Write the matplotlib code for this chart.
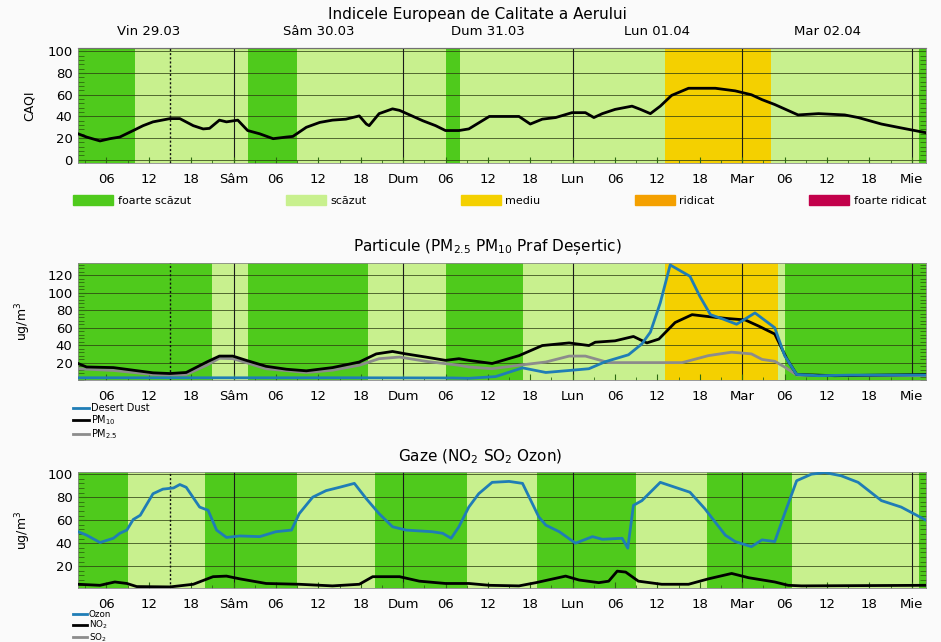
import numpy as np
import matplotlib
matplotlib.use("Agg")
import matplotlib.pyplot as plt
from matplotlib.patches import Patch
from matplotlib.lines import Line2D
from matplotlib.ticker import MultipleLocator

# hours counted from Vin 29.03 00:00
caqi_h = [2, 3.2, 5.1, 6.5, 7.9, 9.8, 11.2, 12.6, 15, 16.4, 18.3, 19.7, 20.6, 22, 23, 24.6,
          26, 27.7, 29.6, 31.5, 32.4, 34.3, 36.2, 38, 39.9, 41.8, 42.8, 43.2, 44.6, 46.5,
          47.5, 50.8, 52.6, 54, 55.9, 57.3, 60.2, 64.4, 66, 67.7, 69.6, 71.9, 73.8, 75,
          76.2, 78, 80.4, 81.6, 83, 84.4, 86, 88.4, 90.3, 92.2, 95, 97.3, 98.8, 100.6,
          103.9, 106.8, 110.5, 112.4, 115.7, 118.5, 122]
caqi_v = [24, 21, 17.4, 19.5, 21, 27, 31.5, 35, 38, 38, 31.5, 28.5, 29, 36.6, 35, 36.6,
          27, 24, 19.5, 21, 21.6, 30, 34.5, 36.6, 37.5, 40.5, 33, 31.5, 42.6, 47,
          45.6, 36, 31.5, 27, 27, 28.5, 40, 40, 33, 37.5, 39, 43.5, 43.5, 39,
          42.6, 46.5, 49.5, 46.5, 42.6, 49.5, 59.4, 66, 66, 66, 63.6, 60, 55.5, 51,
          41.4, 42.6, 41.4, 39, 33, 29.4, 25]

dust_h = [2, 20, 40, 55, 57.3, 61.1, 64.9, 68.2, 71.5, 74.3, 76.6, 79.9, 81.8, 83, 84.4,
          85.8, 88.6, 90, 91.5, 93.1, 95.2, 97.8, 100.6, 102, 103.7, 106.8, 111.5, 122]
dust_v = [2.6, 2.6, 2.6, 2.4, 2, 4, 14, 8.7, 11, 13, 21, 29, 41.5, 55, 88.6,
          132, 119, 96, 75, 70.5, 64, 77, 60, 28, 6.4, 5, 5.7, 5.7]

pm10_h = [2, 3.2, 7, 9.8, 12.6, 15, 17.3, 20.2, 22, 23.9, 25.8, 28.6, 31.5, 34.3, 38,
          41.8, 44.2, 46.5, 48.4, 51.2, 54, 55.9, 57.3, 60.6, 64.4, 67.7, 71.5, 74.3,
          75.2, 78, 80.6, 82.5, 84.2, 86.5, 88.9, 91.2, 94, 96.4, 98.3, 100.6, 102.3,
          103.7, 109.1, 122]
pm10_v = [19, 15, 14.3, 11.3, 8.3, 7.5, 8.7, 20.7, 27.5, 27.5, 22.6, 15.8, 12.4, 10.6, 14.3,
          20.7, 30, 32.8, 30, 26.4, 22.6, 24.5, 22.6, 19, 28, 39.6, 42.6, 39.6,
          43.4, 45, 50, 42.6, 47, 66, 75, 72.8, 70.5, 69, 62, 52.8, 24.5,
          6.4, 5, 6.4]

pm25_h = [2, 7, 12.6, 15, 17.3, 20.2, 22, 23.9, 25.8, 28.6, 34.3, 38, 41.8, 44.6, 47.5,
          51.2, 55.9, 57.3, 60.6, 64.4, 68.2, 71.5, 73.8, 77.1, 80.9, 87.5, 91.2, 94.5,
          97.3, 98.8, 100.6, 102, 103.7, 110, 122]
pm25_v = [13, 11, 6.4, 5.7, 6.4, 17, 25, 24.5, 20, 13, 8.7, 11.3, 17, 24.5, 26.4,
          21.5, 17, 15, 13, 17, 20.7, 27.5, 27.5, 20, 20, 20, 28, 32,
          30, 23.7, 21.5, 15, 5.7, 5, 5]

ozon_h = [2, 3.2, 5.1, 7, 7.9, 8.9, 9.8, 10.8, 12.6, 14, 15.5, 16.4, 17.3, 19.2, 20.4,
          21.6, 23, 24.9, 27.7, 30, 32.2, 33.3, 35.2, 37.1, 39, 41.1, 42.8, 44.6, 46.5,
          48.4, 52.1, 53.6, 54.8, 55.9, 57.3, 58.7, 60.6, 63, 64.9, 67.2, 68.2, 70.1,
          72.4, 74.8, 76.2, 79, 79.8, 80.6, 81.8, 84.4, 86.5, 88.6, 90.7, 93.6, 95,
          97.3, 98.8, 100.6, 102, 103.7, 105.8, 107.7, 110, 112.4, 115.7, 118.5, 122]
ozon_v = [50, 47, 40.6, 44.3, 48.6, 51.4, 60.6, 64.3, 83, 87, 88, 91, 88.6, 71.4, 68.6,
          51.4, 45, 46.3, 45.7, 50, 51.4, 65.7, 80, 85.7, 88.6, 92, 78.6, 65.7, 54.3,
          51.4, 50, 48.6, 44.3, 54.3, 71.4, 83, 92.9, 93.7, 92, 62.9, 55.7, 50,
          40, 45.7, 43.4, 44.3, 35.7, 72.9, 77, 92.9, 88.6, 84.3, 70, 47, 41.4,
          37, 42.9, 41.4, 65.7, 94.3, 100, 101.4, 98.6, 92.9, 77, 71.4, 60]

no2_h = [2, 5.1, 7.2, 8.9, 10.3, 15, 18.3, 21.1, 23, 24.9, 28.6, 33.3, 38, 41.8, 43.7,
         47.5, 50.3, 54, 57.3, 60.2, 64.4, 66.8, 71, 72.9, 75.7, 77.1, 78.3, 79.5,
         81.3, 84.6, 88.4, 91.2, 94.5, 96.9, 100.6, 102.5, 104.4, 122]
no2_v = [4.3, 3.4, 6.3, 5, 2.3, 2, 4.3, 10.9, 11.4, 9, 5, 4.3, 2.9, 4.3, 10.9,
         10.9, 7, 5, 5, 3.4, 2.9, 5.7, 11.4, 8, 5.7, 7, 15.7, 14.9,
         7, 4.3, 4.3, 9, 13.7, 10, 6.3, 3.4, 2.9, 3.4]

# background categories (band edges in hours, category index per band)
cat_names = ["foarte scăzut", "scăzut", "mediu", "ridicat", "foarte ridicat"]
cat_colors = ["#4fca1c", "#c8f08e", "#f4d000", "#f4a000", "#c2004a"]
caqi_edges = [2, 10, 26, 33, 54, 56, 85, 100, 121, 122]
caqi_cats = [0, 1, 0, 1, 0, 1, 2, 1, 0]
pm_edges = [2, 21, 26, 43, 54, 65, 85, 101, 102, 122]
pm_cats = [0, 1, 0, 1, 0, 1, 2, 1, 0]
gas_edges = [2, 9, 20, 33, 44, 57, 67, 81, 91, 103, 121, 122]
gas_cats = [0, 1, 0, 1, 0, 1, 0, 1, 0, 1, 0]

tick_hours = list(range(6, 121, 6))
tick_labels = []
for h in tick_hours:
    if h % 24 == 0:
        tick_labels.append(["Sâm", "Dum", "Lun", "Mar", "Mie"][h // 24 - 1])
    else:
        tick_labels.append(f"{h % 24:02d}")
day_hours = [12, 36, 60, 84, 108]
day_labels = ["Vin 29.03", "Sâm 30.03", "Dum 31.03", "Lun 01.04", "Mar 02.04"]
now_hour = 15

BLUE = "#1f7db6"

fig = plt.figure(figsize=(9.41, 6.42), dpi=100, facecolor="#fafafa")
plt.rcParams["font.family"] = ["DejaVu Sans"]


def setup(ax, edges, cats, ylim, yticks):
    for i, c in enumerate(cats):
        ax.axvspan(edges[i], edges[i + 1], color=cat_colors[c], lw=0, zorder=0)
    ax.set_xlim(2, 122)
    ax.set_ylim(*ylim)
    ax.set_yticks(yticks)
    for y in yticks:
        ax.axhline(y, color="#2a3a10", lw=0.7, alpha=0.75, zorder=1)
    for h in [24, 48, 72, 96, 120]:
        ax.axvline(h, color="#1a1a1a", lw=0.8, zorder=1)
    ax.axvline(now_hour, color="#111111", lw=1.0, ls=(0, (1.5, 1.5)), zorder=3)
    ax.set_xticks(tick_hours)
    ax.set_xticklabels(tick_labels)
    ax.xaxis.set_minor_locator(MultipleLocator(3))
    ax.yaxis.set_minor_locator(MultipleLocator(4))
    ax.tick_params(axis="both", which="both", direction="in", labelsize=9.5,
                   color="#2d6a10", right=True)
    ax.tick_params(axis="x", which="major", length=4, pad=7)
    ax.tick_params(axis="x", which="minor", length=2)
    ax.tick_params(axis="y", which="major", length=6, pad=4)
    ax.tick_params(axis="y", which="minor", length=4)
    for s in ax.spines.values():
        s.set_color("#888888")
        s.set_linewidth(0.6)


# top panel: CAQI
ax1 = fig.add_axes([0.083, 0.746, 0.901, 0.179])
setup(ax1, caqi_edges, caqi_cats, (-3, 103), [0, 20, 40, 60, 80, 100])
ax1.plot(caqi_h, caqi_v, color="black", lw=2, zorder=4)
ax1.set_ylabel("CAQI", fontsize=9, labelpad=8)
top = ax1.secondary_xaxis("top")
top.set_xticks(day_hours)
top.set_xticklabels(day_labels)
top.tick_params(length=0, labelsize=9.5, pad=7)
fig.text(0.507, 0.977, "Indicele European de Calitate a Aerului", ha="center",
         va="center", fontsize=11)
handles = [Patch(color=c, label=n) for c, n in zip(cat_colors, cat_names)]
fig.legend(handles=handles, loc="center left", bbox_to_anchor=(0.078, 0.688, 0.906, 0.0),
           mode="expand", ncol=5, frameon=False, fontsize=8, handlelength=3.6,
           handleheight=1.0, handletextpad=0.4, borderpad=0, borderaxespad=0)

# middle panel: particles
ax2 = fig.add_axes([0.083, 0.408, 0.901, 0.182])
setup(ax2, pm_edges, pm_cats, (0, 134), [20, 40, 60, 80, 100, 120])
ax2.plot(pm25_h, pm25_v, color="#8c8c8c", lw=2, zorder=4, label="PM$_{2.5}$")
ax2.plot(pm10_h, pm10_v, color="black", lw=2, zorder=5, label="PM$_{10}$")
ax2.plot(dust_h, dust_v, color=BLUE, lw=2, zorder=6, label="Desert Dust")
ax2.set_ylabel("ug/m$^3$", fontsize=9, labelpad=10)
fig.text(0.518, 0.615, "Particule (PM$_{2.5}$ PM$_{10}$ Praf Deșertic)", ha="center",
         va="center", fontsize=11)
h2, l2 = ax2.get_legend_handles_labels()
ax2.legend(h2[::-1], l2[::-1], loc="upper left", bbox_to_anchor=(-0.006, -0.2),
           frameon=False, fontsize=7, handlelength=1.6, handletextpad=0.2,
           labelspacing=0.0, borderpad=0, borderaxespad=0)

# bottom panel: gases
ax3 = fig.add_axes([0.083, 0.084, 0.901, 0.181])
setup(ax3, gas_edges, gas_cats, (1, 102), [20, 40, 60, 80, 100])
ax3.plot(no2_h, no2_v, color="black", lw=2, zorder=4)
ax3.plot(ozon_h, ozon_v, color=BLUE, lw=2, zorder=5)
ax3.set_ylabel("ug/m$^3$", fontsize=9, labelpad=10)
fig.text(0.51, 0.288, "Gaze (NO$_2$ SO$_2$ Ozon)", ha="center", va="center", fontsize=11)
gas_handles = [Line2D([], [], color=BLUE, lw=2), Line2D([], [], color="black", lw=2),
               Line2D([], [], color="#8c8c8c", lw=2)]
ax3.legend(gas_handles, ["Ozon", "NO$_2$", "SO$_2$"], loc="upper left",
           bbox_to_anchor=(-0.006, -0.185), frameon=False, fontsize=6.3, handlelength=1.6,
           handletextpad=0.2, labelspacing=0.0, borderpad=0, borderaxespad=0)

fig.savefig("out.png", dpi=100, facecolor=fig.get_facecolor())
